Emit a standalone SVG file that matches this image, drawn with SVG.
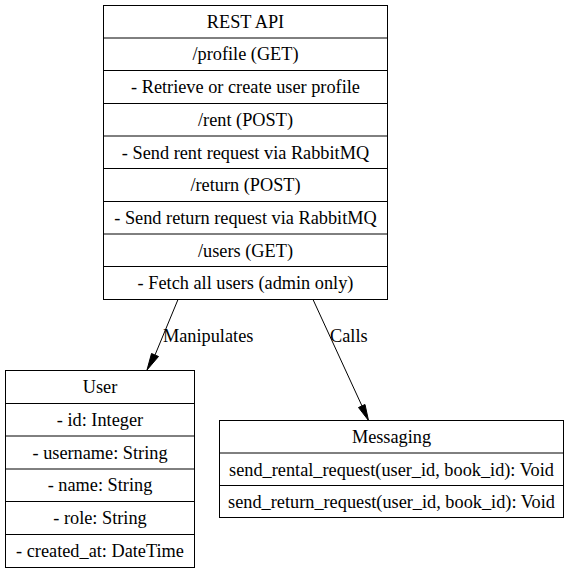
<svg xmlns="http://www.w3.org/2000/svg" width="568" height="573" viewBox="0 0 568 573">
<style>
.box{fill:none;stroke:#000;stroke-width:1}
.ln{stroke:#000;stroke-width:1}
text{font-family:"Liberation Serif","Times New Roman",serif;font-size:18.3px;fill:#000}
.c{text-anchor:middle}
.edge{stroke:#000;stroke-width:1;fill:none}
.head{fill:#000;stroke:#000;stroke-width:1}
</style>
<rect width="568" height="573" fill="#fff"/>
<g id="rest_api">
<rect class="box" x="103.5" y="5.5" width="284" height="294"/>
<line class="ln" x1="103.5" y1="38" x2="387.5" y2="38"/>
<line class="ln" x1="103.5" y1="70.5" x2="387.5" y2="70.5"/>
<line class="ln" x1="103.5" y1="103.5" x2="387.5" y2="103.5"/>
<line class="ln" x1="103.5" y1="136" x2="387.5" y2="136"/>
<line class="ln" x1="103.5" y1="168.5" x2="387.5" y2="168.5"/>
<line class="ln" x1="103.5" y1="201.5" x2="387.5" y2="201.5"/>
<line class="ln" x1="103.5" y1="234" x2="387.5" y2="234"/>
<line class="ln" x1="103.5" y1="266.5" x2="387.5" y2="266.5"/>
<text class="c" x="245.5" y="27.5">REST API</text>
<text class="c" x="245.5" y="60">/profile (GET)</text>
<text class="c" x="245.5" y="93">- Retrieve or create user profile</text>
<text class="c" x="245.5" y="125.5">/rent (POST)</text>
<text class="c" x="245.5" y="158.5">- Send rent request via RabbitMQ</text>
<text class="c" x="245.5" y="191">/return (POST)</text>
<text class="c" x="245.5" y="223.5">- Send return request via RabbitMQ</text>
<text class="c" x="245.5" y="256.5">/users (GET)</text>
<text class="c" x="245.5" y="289">- Fetch all users (admin only)</text>
</g>
<g id="user">
<rect class="box" x="5.5" y="370.5" width="189" height="197"/>
<line class="ln" x1="5.5" y1="403.5" x2="194.5" y2="403.5"/>
<line class="ln" x1="5.5" y1="436" x2="194.5" y2="436"/>
<line class="ln" x1="5.5" y1="469" x2="194.5" y2="469"/>
<line class="ln" x1="5.5" y1="501.5" x2="194.5" y2="501.5"/>
<line class="ln" x1="5.5" y1="534.5" x2="194.5" y2="534.5"/>
<text class="c" x="100" y="393">User</text>
<text class="c" x="100" y="425.5">- id: Integer</text>
<text class="c" x="100" y="458.5">- username: String</text>
<text class="c" x="100" y="491">- name: String</text>
<text class="c" x="100" y="524">- role: String</text>
<text class="c" x="100" y="556.5">- created_at: DateTime</text>
</g>
<g id="messaging">
<rect class="box" x="219.5" y="420.5" width="344" height="97"/>
<line class="ln" x1="219.5" y1="453" x2="563.5" y2="453"/>
<line class="ln" x1="219.5" y1="485.5" x2="563.5" y2="485.5"/>
<text class="c" x="391.5" y="443">Messaging</text>
<text class="c" x="391.5" y="475.5">send_rental_request(user_id, book_id): Void</text>
<text class="c" x="391.5" y="508">send_return_request(user_id, book_id): Void</text>
</g>
<g id="connectors">
<g id="edge_manipulates">
<line class="edge" x1="178" y1="299.5" x2="155" y2="355"/>
<polygon class="head" points="151.5,353.5 147,370 158.5,356.5"/>
<text x="163" y="342">Manipulates</text>
</g>
<g id="edge_calls">
<line class="edge" x1="313" y1="299.5" x2="362" y2="406"/>
<polygon class="head" points="358.5,407.5 368.5,420.5 365,404.5"/>
<text x="330" y="342">Calls</text>
</g>
</g>
</svg>
